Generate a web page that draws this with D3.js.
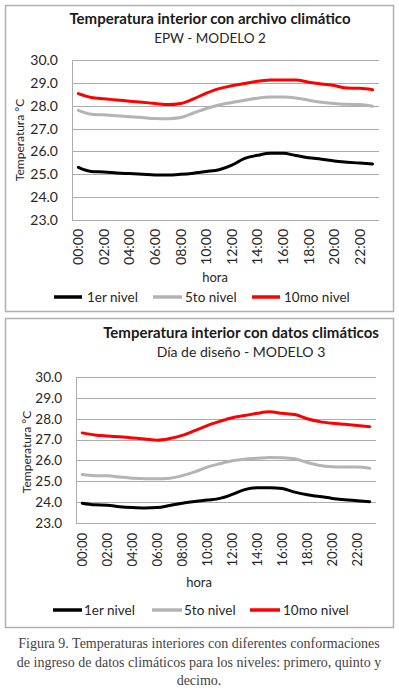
<!DOCTYPE html>
<html>
<head>
<meta charset="utf-8">
<script src="https://cdn.jsdelivr.net/npm/d3@7"></script>
<style>
  html, body { margin: 0; padding: 0; background: #fff; }
  svg { display: block; }
</style>
</head>
<body>
<svg id="chart" width="399" height="693"></svg>
<script>
// ---- data ----
const hours = ["00:00","01:00","02:00","03:00","04:00","05:00","06:00","07:00","08:00","09:00","10:00","11:00",
               "12:00","13:00","14:00","15:00","16:00","17:00","18:00","19:00","20:00","21:00","22:00","23:00"];
const hourTickLabels = ["00:00","02:00","04:00","06:00","08:00","10:00","12:00","14:00","16:00","18:00","20:00","22:00"];
const yTickValues = [23, 24, 25, 26, 27, 28, 29, 30];
const seriesNames = ["1er nivel", "5to nivel", "10mo nivel"];

// Chart 1: EPW - MODELO 2
const m2Nivel1  = [25.30, 25.12, 25.10, 25.06, 25.03, 25.00, 24.97, 24.97, 25.00, 25.05, 25.12, 25.20,
                   25.40, 25.70, 25.83, 25.92, 25.92, 25.82, 25.72, 25.66, 25.58, 25.53, 25.49, 25.45];
const m2Nivel5  = [27.80, 27.63, 27.60, 27.56, 27.52, 27.48, 27.44, 27.43, 27.48, 27.68, 27.88, 28.03,
                   28.14, 28.24, 28.33, 28.38, 28.38, 28.34, 28.24, 28.15, 28.10, 28.06, 28.05, 27.98];
const m2Nivel10 = [28.53, 28.36, 28.30, 28.25, 28.20, 28.15, 28.10, 28.05, 28.10, 28.30, 28.55, 28.75,
                   28.87, 28.97, 29.07, 29.12, 29.13, 29.12, 29.03, 28.95, 28.88, 28.77, 28.76, 28.70];

// Chart 2: Día de diseño - MODELO 3
const m3Nivel1  = [23.95, 23.87, 23.85, 23.78, 23.74, 23.72, 23.74, 23.84, 23.95, 24.03, 24.10, 24.18,
                   24.37, 24.60, 24.69, 24.69, 24.65, 24.48, 24.35, 24.27, 24.18, 24.11, 24.07, 24.02];
const m3Nivel5  = [25.32, 25.27, 25.27, 25.20, 25.15, 25.12, 25.12, 25.15, 25.27, 25.45, 25.68, 25.84,
                   25.98, 26.06, 26.10, 26.14, 26.13, 26.08, 25.90, 25.76, 25.70, 25.68, 25.68, 25.62];
const m3Nivel10 = [27.32, 27.22, 27.17, 27.13, 27.08, 27.03, 26.97, 27.05, 27.20, 27.43, 27.67, 27.87,
                   28.05, 28.15, 28.26, 28.33, 28.26, 28.20, 28.00, 27.86, 27.78, 27.73, 27.68, 27.62];

const captionLines = [
  "Figura 9. Temperaturas interiores con diferentes conformaciones",
  "de ingreso de datos climáticos para los niveles: primero, quinto y",
  "decimo."
];

// ---- styles ----
const seriesColors = ["#000000", "#b4b4b4", "#ff0000"];
const chartFont = "Lato, 'Open Sans', sans-serif";
const textColor = "#262626";
const gridColor = "#adadad";

const svg = d3.select("#chart");

function drawChart(cfg) {
  const g = svg.append("g");
  // outer box
  g.append("rect")
    .attr("x", cfg.box.x + 0.5).attr("y", cfg.box.y + 0.5)
    .attr("width", cfg.box.w).attr("height", cfg.box.h)
    .attr("fill", "#fff").attr("stroke", "#b0b0b0").attr("stroke-width", 1.5);

  const x = d3.scaleBand().domain(hours).range([cfg.plot.left, cfg.plot.right]);
  const y = d3.scaleLinear().domain([23, 30]).range([cfg.plot.bottom, cfg.plot.top]);

  // gridlines
  g.append("g").selectAll("line").data(yTickValues).join("line")
    .attr("x1", cfg.plot.left).attr("x2", cfg.plot.right)
    .attr("y1", d => Math.round(y(d)) + 0.5).attr("y2", d => Math.round(y(d)) + 0.5)
    .attr("stroke", gridColor).attr("stroke-width", 1);

  // left axis line
  g.append("line")
    .attr("x1", cfg.plot.left + 0.5).attr("x2", cfg.plot.left + 0.5)
    .attr("y1", cfg.plot.top).attr("y2", cfg.plot.bottom + 0.5)
    .attr("stroke", gridColor).attr("stroke-width", 1);

  // y axis labels
  const yAxis = d3.axisLeft(y).tickValues(yTickValues).tickFormat(d3.format(".1f")).tickSize(0).tickPadding(cfg.tickPad);
  const ya = g.append("g").attr("transform", `translate(${cfg.plot.left},0)`).call(yAxis);
  ya.select(".domain").remove();
  ya.selectAll("text").attr("font-family", chartFont).attr("font-size", cfg.tickFont).attr("fill", textColor);

  // x axis labels (rotated)
  const xAxis = d3.axisBottom(x).tickValues(hourTickLabels).tickSize(0).tickPadding(0);
  const xa = g.append("g").attr("transform", `translate(0,${cfg.xLabelTop})`).call(xAxis);
  xa.select(".domain").remove();
  xa.selectAll("text")
    .attr("font-family", chartFont).attr("font-size", cfg.xTickFont).attr("fill", textColor)
    .attr("transform", "rotate(-90)")
    .attr("x", 0).attr("y", 0).attr("dy", "0.35em")
    .attr("text-anchor", "end");

  // lines
  const line = d3.line().x((d, i) => x(hours[i]) + x.bandwidth() / 2).y(d => y(d)).curve(d3.curveMonotoneX);
  cfg.series.forEach((s, i) => {
    g.append("path").datum(s).attr("d", line)
      .attr("fill", "none").attr("stroke", seriesColors[i]).attr("stroke-width", 3)
      .attr("stroke-linejoin", "round").attr("stroke-linecap", "round");
  });

  // titles
  g.append("text").attr("x", cfg.titleX).attr("y", cfg.titleY).attr("text-anchor", "middle")
    .attr("font-family", chartFont).attr("font-weight", "bold").attr("font-size", cfg.titleFont)
    .attr("fill", "#1a1a1a").text(cfg.title);
  g.append("text").attr("x", cfg.subX).attr("y", cfg.subY).attr("text-anchor", "middle")
    .attr("font-family", chartFont).attr("font-size", cfg.subFont)
    .attr("fill", textColor).text(cfg.subtitle);

  // y axis title
  g.append("text").attr("transform", `translate(${cfg.yTitleX},${cfg.yTitleY}) rotate(-90)`)
    .attr("text-anchor", "middle").attr("dy", "0.35em")
    .attr("font-family", chartFont).attr("font-size", cfg.axisTitleFont).attr("fill", textColor)
    .text("Temperatura °C");

  // x axis title
  g.append("text").attr("x", cfg.horaX).attr("y", cfg.horaY).attr("text-anchor", "middle")
    .attr("font-family", chartFont).attr("font-size", cfg.axisTitleFont + 1).attr("fill", textColor)
    .text("hora");

  // legend
  seriesNames.forEach((name, i) => {
    const it = cfg.legend[i];
    g.append("line").attr("x1", it[0]).attr("x2", it[1]).attr("y1", cfg.legendY).attr("y2", cfg.legendY)
      .attr("stroke", seriesColors[i]).attr("stroke-width", 3.5);
    g.append("text").attr("x", it[2]).attr("y", cfg.legendY).attr("dy", "0.35em")
      .attr("font-family", chartFont).attr("font-size", cfg.legendFont).attr("fill", textColor)
      .text(name);
  });
}

drawChart({
  box: { x: 5, y: 5, w: 388, h: 306 },
  plot: { left: 72, right: 379, top: 60, bottom: 220 },
  series: [m2Nivel1, m2Nivel5, m2Nivel10],
  title: "Temperatura interior con archivo climático",
  subtitle: "EPW - MODELO 2",
  titleX: 210, titleY: 24, titleFont: 15,
  subX: 210, subY: 43, subFont: 13.5,
  tickFont: 14, xTickFont: 14, tickPad: 14,
  xLabelTop: 229,
  yTitleX: 20, yTitleY: 140, axisTitleFont: 12,
  horaX: 215, horaY: 282,
  legendY: 297, legendFont: 13.5,
  legend: [[54, 82, 87], [153, 182, 185], [252, 280, 284]]
});

drawChart({
  box: { x: 5, y: 318, w: 388, h: 309 },
  plot: { left: 76, right: 376, top: 377, bottom: 523 },
  series: [m3Nivel1, m3Nivel5, m3Nivel10],
  title: "Temperatura interior con datos climáticos",
  subtitle: "Día de diseño - MODELO 3",
  titleX: 241, titleY: 338, titleFont: 15,
  subX: 241, subY: 357, subFont: 14,
  tickFont: 13.5, xTickFont: 13, tickPad: 14,
  xLabelTop: 533,
  yTitleX: 27, yTitleY: 452, axisTitleFont: 12,
  horaX: 199, horaY: 587,
  legendY: 610, legendFont: 13.5,
  legend: [[53, 82, 84], [152, 182, 184], [250, 280, 283]]
});

// caption
const capY = [648, 667, 685];
captionLines.forEach((t, i) => {
  svg.append("text").attr("x", 199).attr("y", capY[i]).attr("text-anchor", "middle")
    .attr("font-family", "'Liberation Serif', 'DejaVu Serif', serif").attr("font-size", 14)
    .attr("fill", "#444").text(t);
});
</script>
</body>
</html>
